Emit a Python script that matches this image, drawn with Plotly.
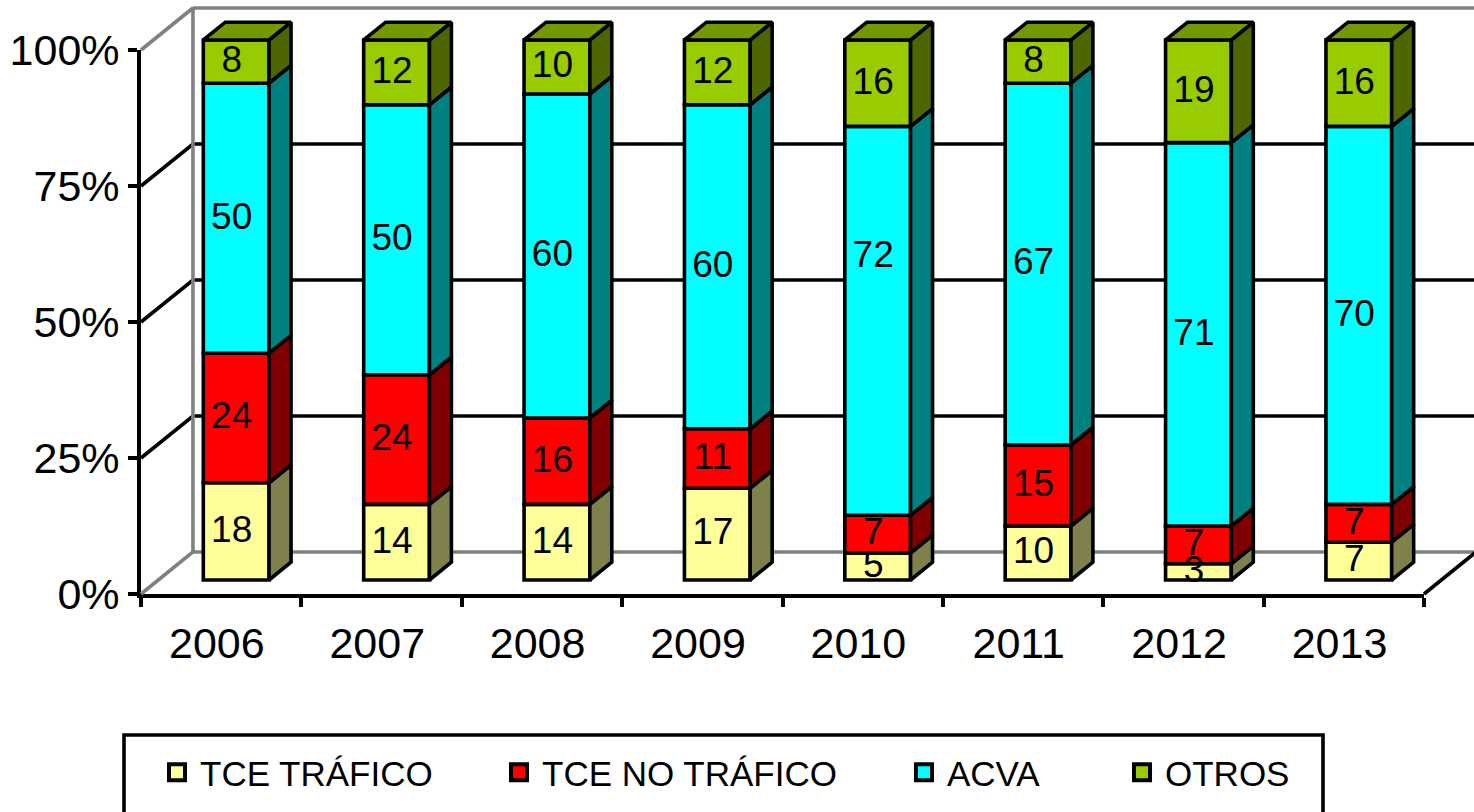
import plotly.graph_objects as go

years = ["2006", "2007", "2008", "2009", "2010", "2011", "2012", "2013"]
tce_trafico = [18, 14, 14, 17, 5, 10, 3, 7]
tce_no_trafico = [24, 24, 16, 11, 7, 15, 7, 7]
acva = [50, 50, 60, 60, 72, 67, 71, 70]
otros = [8, 12, 10, 12, 16, 8, 19, 16]
pct_ticks = [0, 25, 50, 75, 100]
pct_labels = ["0%", "25%", "50%", "75%", "100%"]

series_names = ["TCE TRÁFICO", "TCE NO TRÁFICO", "ACVA", "OTROS"]
series_values = [tce_trafico, tce_no_trafico, acva, otros]
front_colors = ["#FFFF99", "#FF0000", "#00FFFF", "#99CC00"]
side_colors = ["#80804D", "#800000", "#008080", "#4D6600"]
top_color = "#739900"
legend_widths = [291, 354, 167, 150]

W, H = 1474, 812
FONT = "Liberation Sans"
GREY = "#808080"
LW = 3.6
n = len(years)
centers = [i + 0.5 for i in range(n)]
year_label_pos = [c - 0.027 for c in centers]

# frame of the front axes, in pixels
AX_L, AX_R, AX_T, AX_B = 141, 1424, 50, 594
# frame of the plane where the bars stand, in pixels
BAR_L, BAR_R, BAR_T, BAR_B = 156, 1439, 40, 580

WALL_DX, WALL_DY = 0.324, 7.72      # depth of the wall box, in axis units
BAR_DX, BAR_DY = 0.137, 3.3         # depth of one bar, in axis units
BAR_W = 0.41
LABEL_DX, LABEL_DY = 0.028, -0.2    # small shift of the value labels from the segment centre


def full_range(lo_px, hi_px, span_units, size, flip=False):
    """Axis range that makes a subplot fill the whole canvas but keeps the scale of the frame."""
    scale = (hi_px - lo_px) / span_units
    if flip:   # y axes: value 0 sits at hi_px
        return [(hi_px - size) / scale, hi_px / scale]
    return [-lo_px / scale, (size - lo_px) / scale]


fig = go.Figure()

# legend entries, on the visible axes
for name, color, lw in zip(series_names, front_colors, legend_widths):
    fig.add_trace(go.Scatter(x=[None], y=[None], mode="markers", name=name,
                             marker=dict(symbol="square", size=16, color=color,
                                         line=dict(color="black", width=4)),
                             legendwidth=lw))


def wall_line(xs, ys, color):
    fig.add_trace(go.Scatter(x=xs, y=ys, xaxis="x2", yaxis="y2", mode="lines",
                             line=dict(color=color, width=LW),
                             showlegend=False, hoverinfo="skip"))


# box behind the bars
for level in pct_ticks[1:-1]:
    wall_line([0, WALL_DX, n + WALL_DX], [level, level + WALL_DY, level + WALL_DY], "black")
wall_line([0, WALL_DX, WALL_DX, 0], [100, 100 + WALL_DY, WALL_DY, 0], GREY)
wall_line([WALL_DX, n + WALL_DX], [100 + WALL_DY] * 2, GREY)
wall_line([WALL_DX, n + WALL_DX], [WALL_DY] * 2, GREY)
wall_line([n, n + WALL_DX], [0, WALL_DY], "black")

# bars and their 3-D faces
bases = [0] * n
label_x, label_y, label_t = [], [], []
for name, vals, front, side in zip(series_names, series_values, front_colors, side_colors):
    fig.add_trace(go.Bar(x=centers, y=vals, base=bases, width=BAR_W, xaxis="x3", yaxis="y3",
                         name=name, showlegend=False,
                         marker=dict(color=front, line=dict(color="black", width=LW)),
                         cliponaxis=False))
    xs, ys = [], []
    for c, b, v, yr in zip(centers, bases, vals, years):
        r = c + BAR_W / 2
        xs += [r, r + BAR_DX, r + BAR_DX, r, r, None]
        ys += [b, b + BAR_DY, b + v + BAR_DY, b + v, b, None]
        label_x.append(c - LABEL_DX)
        # the 2010 ACVA label sits well above the centre of its segment in the source chart
        label_y.append(59.6 if (name, yr) == ("ACVA", "2010") else b + v / 2 + LABEL_DY)
        label_t.append(str(v))
    fig.add_trace(go.Scatter(x=xs, y=ys, xaxis="x3", yaxis="y3", mode="lines", fill="toself",
                             fillcolor=side, line=dict(color="black", width=LW),
                             showlegend=False, hoverinfo="skip"))
    bases = [b + v for b, v in zip(bases, vals)]

xs, ys = [], []
for c, t in zip(centers, bases):
    l, r = c - BAR_W / 2, c + BAR_W / 2
    xs += [l, l + BAR_DX, r + BAR_DX, r, l, None]
    ys += [t, t + BAR_DY, t + BAR_DY, t, t, None]
fig.add_trace(go.Scatter(x=xs, y=ys, xaxis="x3", yaxis="y3", mode="lines", fill="toself",
                         fillcolor=top_color, line=dict(color="black", width=LW),
                         showlegend=False, hoverinfo="skip"))

fig.add_trace(go.Scatter(x=label_x, y=label_y, text=label_t, xaxis="x3", yaxis="y3", mode="text",
                         textposition="middle center",
                         textfont=dict(family=FONT, size=37, color="black"),
                         showlegend=False, hoverinfo="skip"))

fig.update_layout(
    width=W, height=H, margin=dict(l=0, r=0, t=0, b=0, autoexpand=False),
    paper_bgcolor="white", plot_bgcolor="rgba(0,0,0,0)",
    barmode="overlay",
    font=dict(family=FONT, color="black"),
    xaxis=dict(domain=[AX_L / W, AX_R / W], range=[0, n], tickmode="array", tickvals=year_label_pos,
               ticktext=years, ticks="", showline=True, linecolor="black", linewidth=LW,
               showgrid=False, zeroline=False, tickfont=dict(family=FONT, size=43, color="black"),
               ticklabelstandoff=9, fixedrange=True,
               minor=dict(tickmode="array", tickvals=list(range(n + 1)), ticks="outside",
                          ticklen=9, tickwidth=LW, tickcolor="black", showgrid=False)),
    yaxis=dict(domain=[1 - AX_B / H, 1 - AX_T / H], range=[0, 100], tickmode="array",
               tickvals=pct_ticks, ticktext=pct_labels, ticks="outside", ticklen=9,
               tickwidth=LW, tickcolor="black", showline=True, linecolor="black", linewidth=LW,
               showgrid=False, zeroline=False, tickfont=dict(family=FONT, size=43, color="black"),
               ticklabelstandoff=0, fixedrange=True),
    # wall plane: same scale as the visible axes, but over the whole canvas so nothing is clipped
    xaxis2=dict(domain=[0, 1], range=full_range(AX_L, AX_R, n, W), anchor="y2", visible=False,
                fixedrange=True),
    yaxis2=dict(domain=[0, 1], range=full_range(AX_T, AX_B, 100, H, flip=True), anchor="x2",
                visible=False, fixedrange=True),
    # bar plane
    xaxis3=dict(domain=[0, 1], range=full_range(BAR_L, BAR_R, n, W), anchor="y3", visible=False,
                fixedrange=True),
    yaxis3=dict(domain=[0, 1], range=full_range(BAR_T, BAR_B, 100, H, flip=True), anchor="x3",
                visible=False, fixedrange=True),
    legend=dict(orientation="h", x=154 / W, y=1 - 743 / H, xanchor="left", yanchor="top",
                font=dict(family=FONT, size=35, color="black"), itemwidth=36,
                bgcolor="rgba(0,0,0,0)", borderwidth=0, traceorder="normal"),
    shapes=[dict(type="rect", xref="paper", yref="paper", layer="below",
                 x0=124 / W, x1=1323 / W, y0=-0.05, y1=1 - 735 / H,
                 line=dict(color="black", width=LW), fillcolor="white")],
    showlegend=True,
)

fig.write_html("out.html", config={"displayModeBar": False},
               post_script="document.body.style.margin='0';document.body.style.overflow='hidden';")
